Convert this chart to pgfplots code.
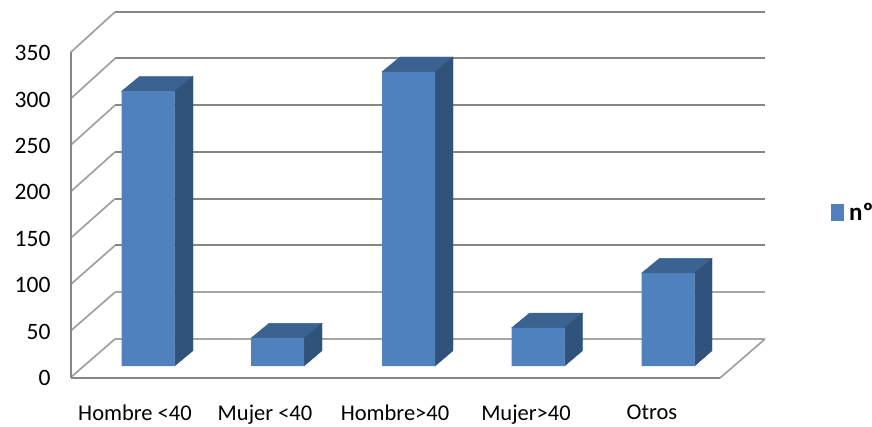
\documentclass[border=0pt]{standalone}
\usepackage{pgfplots}
\pgfplotsset{compat=1.18}
\usepackage{fontspec}
\setmainfont{Carlito}
\definecolor{barfront}{HTML}{4F81BD}
\definecolor{bartop}{HTML}{3B6391}
\definecolor{barside}{HTML}{30527B}
\definecolor{gridcol}{HTML}{868686}
\definecolor{gridlow}{HTML}{A6A6A6}
\definecolor{diag}{HTML}{A0A0A0}
\begin{document}
\begin{tikzpicture}[x=1pt,y=1pt]
\useasboundingbox (-71pt,-48pt) rectangle (801pt,378pt);
\begin{axis}[
    at={(0pt,0pt)}, anchor=south west,
    scale only axis, width=694pt, height=366pt,
    xmin=71, xmax=765, ymin=-12.93, ymax=381.47,
    clip=false,
    axis line style={draw=none},
    tick style={draw=none},
    xtick={135,265,395,526,652},
    xticklabels={Hombre <40,Mujer <40,Hombre>40,Mujer>40,Otros},
    x tick label style={yshift=-23pt,font=\fontsize{22.5}{24}\selectfont},
    ytick={-12.93,37.07,87.07,137.07,187.07,237.07,287.07,337.07},
    yticklabels={0,50,100,150,200,250,300,350},
    y tick label style={xshift=-17pt,font=\fontsize{23.5}{25}\selectfont},
    legend style={at={(axis cs:831,165)},anchor=west,draw=none,fill=none,inner sep=0pt,
      font=\fontsize{25}{27}\selectfont\bfseries,
      /tikz/every even column/.append style={column sep=0pt}},
    legend image code/.code={\fill[barfront] (0pt,-8.5pt) rectangle (13pt,8.5pt);},
]
% back wall
\addplot[gridcol,line width=2.2pt,forget plot] coordinates {(115,381.47)(765,381.47)};
\addplot[gridcol,line width=2pt,forget plot] coordinates {(115,331.4)(765,331.4)};
\addplot[gridcol,line width=2pt,forget plot] coordinates {(115,281)(765,281)};
\addplot[gridcol,line width=2pt,forget plot] coordinates {(115,230.6)(765,230.6)};
\addplot[gridcol,line width=2pt,forget plot] coordinates {(115,180.2)(765,180.2)};
\addplot[gridcol,line width=2pt,forget plot] coordinates {(115,129.9)(765,129.9)};
\addplot[gridlow,line width=2.2pt,forget plot] coordinates {(115,79.5)(765,79.5)};
\addplot[gridlow,line width=2.2pt,forget plot] coordinates {(115,29.1)(765,29.1)};
% side wall
\addplot[diag,line width=1.7pt,forget plot] coordinates {(71,338.3)(115,381.47)};
\addplot[diag,line width=1.7pt,forget plot] coordinates {(71,288.3)(115,331.4)};
\addplot[diag,line width=1.7pt,forget plot] coordinates {(71,238.3)(115,281)};
\addplot[diag,line width=1.7pt,forget plot] coordinates {(71,188.2)(115,230.6)};
\addplot[diag,line width=1.7pt,forget plot] coordinates {(71,138.2)(115,180.2)};
\addplot[diag,line width=1.7pt,forget plot] coordinates {(71,88.2)(115,129.9)};
\addplot[diag,line width=1.7pt,forget plot] coordinates {(71,38.2)(115,79.5)};
\addplot[diag,line width=1.7pt,forget plot] coordinates {(71,-12)(115,29.1)};
% floor and axis
\addplot[diag,line width=1.7pt,forget plot] coordinates {(720,-12.93)(765,29.1)};
\addplot[gridcol,line width=2pt,forget plot] coordinates {(71,-12.93)(720,-12.93)};
\addplot[gridcol,line width=2pt,forget plot] coordinates {(71,338.3)(71,-12.93)};
% bar tops and sides
\addplot[bartop,fill=bartop,forget plot] coordinates {(121.5,296)(174.5,296)(193,312)(139.5,312)} --cycle;
\addplot[barside,fill=barside,forget plot] coordinates {(174.5,296)(193,312)(193,16.5)(174.5,0)} --cycle;
\addplot[bartop,fill=bartop,forget plot] coordinates {(251,30)(304,30)(322,46)(269,46)} --cycle;
\addplot[barside,fill=barside,forget plot] coordinates {(304,30)(322,46)(322,16.5)(304,0)} --cycle;
\addplot[bartop,fill=bartop,forget plot] coordinates {(382,317)(435,317)(453,333)(400,333)} --cycle;
\addplot[barside,fill=barside,forget plot] coordinates {(435,317)(453,333)(453,16.5)(435,0)} --cycle;
\addplot[bartop,fill=bartop,forget plot] coordinates {(511.5,41)(564.5,41)(582.5,57)(529.5,57)} --cycle;
\addplot[barside,fill=barside,forget plot] coordinates {(564.5,41)(582.5,57)(582.5,16.5)(564.5,0)} --cycle;
\addplot[bartop,fill=bartop,forget plot] coordinates {(641.5,100)(694.5,100)(712,116)(659.5,116)} --cycle;
\addplot[barside,fill=barside,forget plot] coordinates {(694.5,100)(712,116)(712,16.5)(694.5,0)} --cycle;
% bar fronts
\addplot[ybar,bar width=53pt,bar shift=0pt,draw=none,fill=barfront] coordinates {(148,296)(277.5,30)(408.5,317)(538,41)(668,100)};
\addlegendentry{\hspace{3pt}nº}
\end{axis}
\end{tikzpicture}
\end{document}
